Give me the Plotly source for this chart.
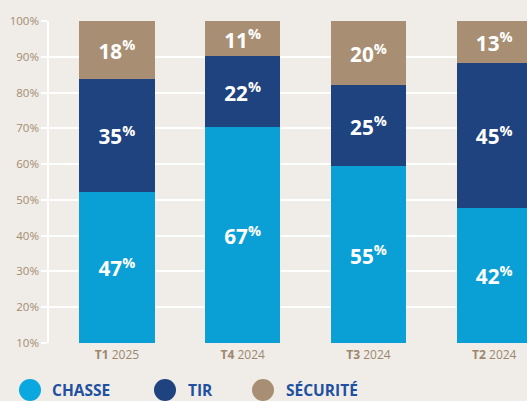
import plotly.graph_objects as go

categories = ["T1 2025", "T4 2024", "T3 2024", "T2 2024"]
tick_labels = ["<b>T1</b> 2025", "<b>T4</b> 2024", "<b>T3</b> 2024", "<b>T2</b> 2024"]
chasse = [47, 67, 55, 42]
tir = [35, 22, 25, 45]
securite = [18, 11, 20, 13]
y_tick_labels = ["10%", "20%", "30%", "40%", "50%", "60%", "70%", "80%", "90%", "100%"]

series = [
    ("CHASSE", chasse, "#0AA0D6"),
    ("TIR", tir, "#1E437F"),
    ("SÉCURITÉ", securite, "#A88F73"),
]

W, H = 527, 401
ML, MR, MT, MB = 49, 0, 21, 58
PW, PH = W - ML - MR, H - MT - MB

fig = go.Figure()
for name, vals, color in series:
    fig.add_trace(go.Bar(
        x=categories, y=vals, name=name,
        marker=dict(color=color, line=dict(width=0)),
        width=0.6,
        text=[f"{v}<sup>%</sup>" for v in vals],
        textposition="inside", insidetextanchor="middle",
        textfont=dict(family="Open Sans", size=22, color="white", weight="bold"),
        textangle=0,
        showlegend=False,
        hoverinfo="skip",
    ))

def px_x(p):
    return (p - ML) / PW

def px_y(p):
    return (H - MB - p) / PH

shapes = []
annotations = []
legend_items = [("CHASSE", "#0AA8DE", 30, 51), ("TIR", "#1E437F", 165, 187), ("SÉCURITÉ", "#A88F73", 263, 285)]
for name, color, cx, tx in legend_items:
    cy = 390
    r = 11
    shapes.append(dict(type="circle", xref="paper", yref="paper",
                       x0=px_x(cx - r), x1=px_x(cx + r), y0=px_y(cy + r), y1=px_y(cy - r),
                       fillcolor=color, line=dict(width=0), layer="above"))
    annotations.append(dict(text=f"<b>{name}</b>", xref="paper", yref="paper",
                            x=px_x(tx), y=px_y(cy), xanchor="left", yanchor="middle",
                            showarrow=False, borderpad=0,
                            font=dict(family="Open Sans", size=15.5, color="#2150A0")))

fig.update_layout(
    width=W, height=H, autosize=False,
    margin=dict(l=ML, r=MR, t=MT, b=MB),
    barmode="stack",
    paper_bgcolor="#F0EDE8", plot_bgcolor="#F0EDE8",
    shapes=shapes, annotations=annotations,
    uniformtext=dict(minsize=8, mode="show"),
)
fig.update_xaxes(
    range=[-0.54, 3.26],
    tickvals=categories, ticktext=tick_labels,
    tickfont=dict(family="Open Sans", size=12, color="#9C876E"),
    ticklabelstandoff=3,
    showgrid=False, zeroline=False, showline=False, ticks="",
    fixedrange=True,
)
fig.update_yaxes(
    range=[0, 100],
    tickvals=[i * 100 / 9 for i in range(len(y_tick_labels))],
    ticktext=y_tick_labels,
    tickfont=dict(family="Open Sans", size=11.5, color="#A38C72"),
    showgrid=True, gridcolor="white", gridwidth=1.5,
    showline=True, linecolor="white", linewidth=1.5,
    ticks="outside", ticklen=6, tickcolor="white", tickwidth=1.5,
    zeroline=False, fixedrange=True,
)

fig.write_html(
    "out.html",
    config={"displayModeBar": False},
    post_script="document.body.style.margin='0';document.body.style.background='#F0EDE8';document.body.style.overflow='hidden';",
)
